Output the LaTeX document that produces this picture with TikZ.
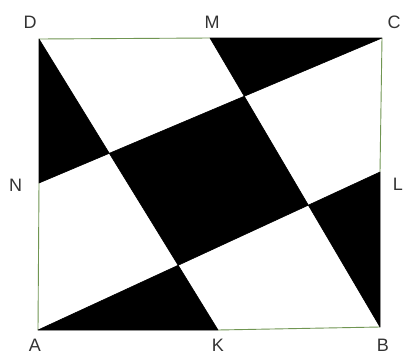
\documentclass[tikz,border=0pt]{standalone}
\usepackage{fontspec}
\setmainfont{Liberation Sans}
\definecolor{sqgreen}{RGB}{112,150,82}
\begin{document}
\begin{tikzpicture}[x=1pt,y=-1pt,
  edge/.style={draw=sqgreen,line width=0.9pt},
  blk/.style={fill=black,draw=black,line width=0.6pt,line join=round},
  lbl/.style={font=\fontsize{18}{18}\selectfont,text=black!80,inner sep=0pt}]
\useasboundingbox (0,0) rectangle (405,354);
\fill[white] (0,0) rectangle (405,354);
% corner and midpoint coordinates
\coordinate (A) at (38,330);
\coordinate (K) at (218,330);
\coordinate (B) at (380,327);
\coordinate (L) at (380,172);
\coordinate (C) at (382,38);
\coordinate (M) at (210,38);
\coordinate (D) at (39,39);
\coordinate (N) at (39,183);
% intersections
\coordinate (P1) at (intersection of D--K and N--C);
\coordinate (P2) at (intersection of M--B and N--C);
\coordinate (P3) at (intersection of M--B and A--L);
\coordinate (P4) at (intersection of D--K and A--L);
% square sides visible
\draw[edge] (D) -- (M);
\draw[edge] (C) -- (L);
\draw[edge] (N) -- (A);
\draw[edge] (K) -- (B);
% black regions
\filldraw[blk] (D) -- (N) -- (P1) -- cycle;
\filldraw[blk] (M) -- (C) -- (P2) -- cycle;
\filldraw[blk] (L) -- (B) -- (P3) -- cycle;
\filldraw[blk] (A) -- (K) -- (P4) -- cycle;
\filldraw[blk] (P1) -- (P2) -- (P3) -- (P4) -- cycle;
% labels
\node[lbl] (lD) at (30,22) {D};
\node[lbl] (lM) at (212,22) {M};
\node[lbl] (lC) at (394,22) {C};
\node[lbl] (lN) at (15.5,185) {N};
\node[lbl] (lL) at (398,184) {L};
\node[lbl] (lA) at (35,345) {A};
\node[lbl] (lK) at (218,345) {K};
\node[lbl] (lB) at (383,345) {B};
\end{tikzpicture}
\end{document}
